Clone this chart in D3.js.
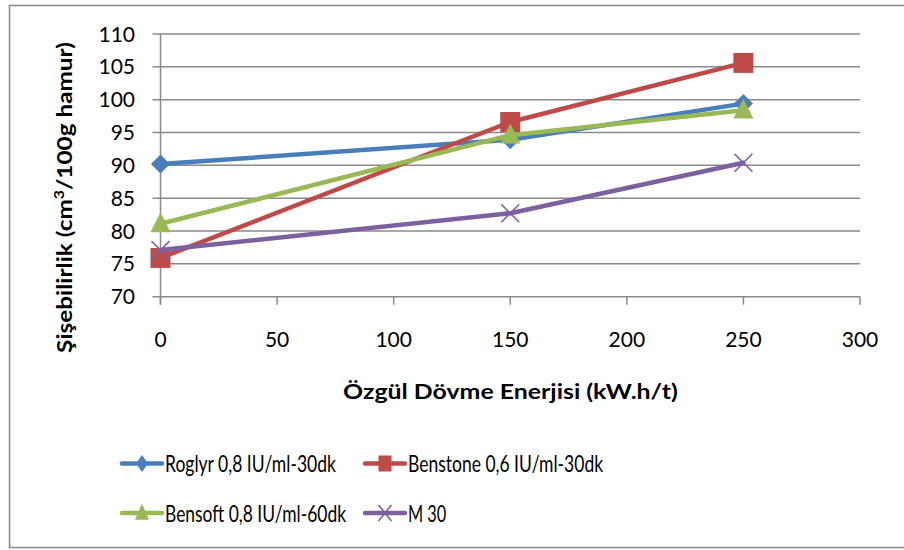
<!DOCTYPE html>
<html><head><meta charset="utf-8">
<script src="https://cdn.jsdelivr.net/npm/d3@7"></script>
<style>body{margin:0;background:#fff}svg{display:block;font-family:Lato,"Open Sans",sans-serif}</style>
</head><body><svg id="c" width="904" height="550"></svg>
<script>
const xValues = [0, 150, 250];
const seriesNames = ["Roglyr 0,8 IU/ml-30dk","Benstone 0,6 IU/ml-30dk","Bensoft 0,8 IU/ml-60dk","M 30"];
const roglyr = [90.2, 93.9, 99.4];
const benstone = [75.9, 96.6, 105.6];
const bensoft = [81.1, 94.6, 98.4];
const m30 = [77.1, 82.7, 90.4];
const yTicks = [70,75,80,85,90,95,100,105,110];
const xTicks = [0,50,100,150,200,250,300];
const colors = ["#4a7ebb","#be4b48","#98b954","#7d60a0"];
const markers = ["diamond","square","triangle","x"];
const allSeries = [roglyr, benstone, bensoft, m30];

const svg = d3.select("#c");
svg.append("rect").attr("x",9.5).attr("y",5.5).attr("width",900).attr("height",542).attr("fill","#fff").attr("stroke","#8c8c8c").attr("stroke-width",1.6);

const x = d3.scaleLinear().domain([0,300]).range([160.5,860]);
const y = d3.scaleLinear().domain([70,110]).range([296.7,34]);
const gridCol = "#8a8a8a";

svg.append("g").selectAll("line").data(yTicks).join("line")
  .attr("x1",152.5).attr("x2",860).attr("y1",d=>y(d)).attr("y2",d=>y(d))
  .attr("stroke",gridCol).attr("stroke-width",1.5);
svg.append("line").attr("x1",x(0)).attr("x2",x(0)).attr("y1",y(110)).attr("y2",y(70)+8).attr("stroke",gridCol).attr("stroke-width",1.5);
svg.append("g").selectAll("line").data(xTicks).join("line")
  .attr("x1",d=>x(d)).attr("x2",d=>x(d)).attr("y1",y(70)).attr("y2",y(70)+8)
  .attr("stroke",gridCol).attr("stroke-width",1.5);

svg.append("g").selectAll("text").data(yTicks).join("text")
  .attr("x",135).attr("y",d=>y(d)+7.5).attr("text-anchor","end")
  .attr("font-size",21).attr("fill","#000").text(d=>d);
svg.append("g").selectAll("text").data(xTicks).join("text")
  .attr("x",d=>x(d)).attr("y",346.5).attr("text-anchor","middle")
  .attr("font-size",21).attr("fill","#000").text(d=>d);

function fit(sel, tx, ty, target, rot){
  const w = sel.node().getBBox().width;
  sel.attr("transform", `translate(${tx},${ty})` + (rot?` rotate(${rot})`:"") + ` scale(${target/w},1)`);
}

const xt = svg.append("text").attr("text-anchor","middle").attr("font-size",20).attr("font-weight","bold").text("Özgül Dövme Enerjisi (kW.h/t)");
fit(xt, 510.5, 399.3, 335);

const yt = svg.append("text").attr("text-anchor","middle").attr("font-size",20).attr("font-weight","bold");
yt.append("tspan").text("Şişebilirlik (cm");
yt.append("tspan").attr("font-size",13).attr("dy",-8).text("3");
yt.append("tspan").attr("dy",8).text("/100g hamur)");
fit(yt, 72, 197.5, 311, -90);

const line = d3.line().x((d,i)=>x(xValues[i])).y(d=>y(d));

function drawMarker(g, type, cx, cy, color, hw, hh){
  if(type==="diamond"){
    g.append("path").attr("d",`M${cx},${cy-hh}L${cx+hw},${cy}L${cx},${cy+hh}L${cx-hw},${cy}Z`).attr("fill",color);
  } else if(type==="square"){
    g.append("rect").attr("x",cx-hw).attr("y",cy-hh).attr("width",2*hw).attr("height",2*hh).attr("fill",color);
  } else if(type==="triangle"){
    g.append("path").attr("d",`M${cx},${cy-hh*1.1}L${cx+hw},${cy+hh*0.8}L${cx-hw},${cy+hh*0.8}Z`).attr("fill",color);
  } else {
    g.append("path").attr("d",`M${cx-hw},${cy-hh}L${cx+hw},${cy+hh}M${cx-hw},${cy+hh}L${cx+hw},${cy-hh}`).attr("stroke",color).attr("stroke-width",1.6).attr("fill","none");
  }
}
const mSize = {diamond:[9.5,9.5], square:[10,10], triangle:[10,10.5], x:[9,9]};

allSeries.forEach((s,k)=>{
  const g = svg.append("g");
  g.append("path").attr("d",line(s)).attr("fill","none").attr("stroke",colors[k]).attr("stroke-width",4.5).attr("stroke-linejoin","round").attr("stroke-linecap","round");
  const [hw,hh] = mSize[markers[k]];
  s.forEach((v,i)=>drawMarker(g, markers[k], x(xValues[i]), y(v), colors[k], hw, hh));
});

const legPos = [[122,463.5],[365,463.5],[122,513],[365,513]];
const legW = [171.7,195.7,181.7,38.4];
const legMk = {diamond:[6,8.5], square:[6.5,8], triangle:[7,8.5], x:[6.5,8]};
seriesNames.forEach((n,k)=>{
  const [lx,ly] = legPos[k];
  const g = svg.append("g");
  g.append("line").attr("x1",lx).attr("x2",lx+40).attr("y1",ly).attr("y2",ly).attr("stroke",colors[k]).attr("stroke-width",4.5).attr("stroke-linecap","round");
  const [hw,hh] = legMk[markers[k]];
  drawMarker(g, markers[k], lx+20, ly, colors[k], hw, hh);
  const t = g.append("text").attr("font-size",24).text(n);
  fit(t, lx+43, ly+8.5, legW[k]);
});
</script></body></html>
